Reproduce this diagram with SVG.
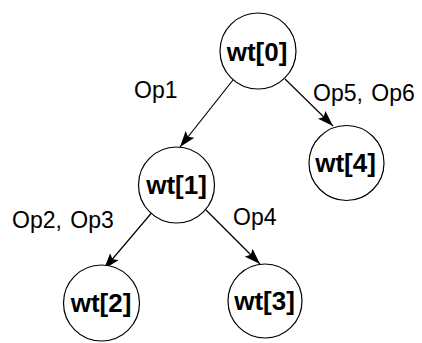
<svg xmlns="http://www.w3.org/2000/svg" width="422" height="343" viewBox="0 0 422 343">
<defs>
<style>
.node circle{fill:#fff;stroke:#000;stroke-width:1.2}
.node text{font-family:"Liberation Sans",Arial,sans-serif;font-weight:bold;font-size:26px;text-anchor:middle;fill:#000}
.lbl{font-family:"Liberation Sans",Arial,sans-serif;font-size:23px;fill:#000}
.edge{stroke:#000;stroke-width:1.2;fill:none;marker-end:url(#arr)}
</style>
<marker id="arr" markerUnits="userSpaceOnUse" markerWidth="17" markerHeight="12" refX="16" refY="6" orient="auto">
<path d="M0,0.5 L16,6 L0,11.5 L3,6 Z" fill="#000"/>
</marker>
</defs>
<rect width="422" height="343" fill="#fff"/>
<g id="connectors">
<line class="edge" x1="233" y1="80" x2="180" y2="147"/>
<line class="edge" x1="285" y1="79" x2="333" y2="126"/>
<line class="edge" x1="154" y1="210" x2="104" y2="269"/>
<line class="edge" x1="203" y1="207" x2="260" y2="264"/>
</g>
<g id="n0" class="node"><circle cx="258" cy="51" r="38"/><text x="257" y="61">wt[0]</text></g>
<g id="n1" class="node"><circle cx="176.5" cy="185" r="38"/><text x="176.5" y="194">wt[1]</text></g>
<g id="n4" class="node"><circle cx="346.5" cy="163" r="37.5"/><text x="345.5" y="172">wt[4]</text></g>
<g id="n2" class="node"><circle cx="101.5" cy="303" r="38"/><text x="101" y="312">wt[2]</text></g>
<g id="n3" class="node"><circle cx="265" cy="301" r="37"/><text x="264.5" y="310">wt[3]</text></g>
<g id="labels">
<text class="lbl" x="134" y="98">Op1</text>
<text class="lbl" x="313" y="101" word-spacing="2">Op5, Op6</text>
<text class="lbl" x="12" y="228" word-spacing="2">Op2, Op3</text>
<text class="lbl" x="233" y="225">Op4</text>
</g>
</svg>
